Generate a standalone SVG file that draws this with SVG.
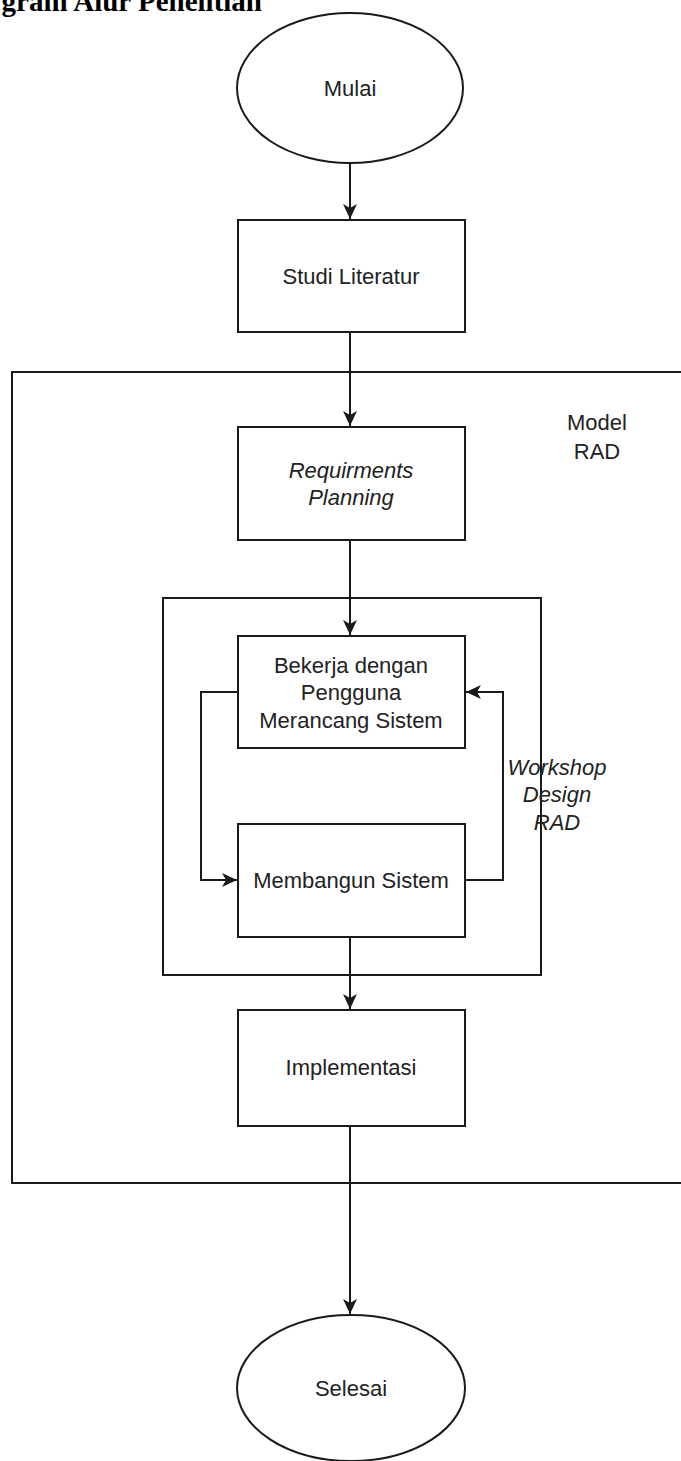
<svg xmlns="http://www.w3.org/2000/svg" width="681" height="1461" viewBox="0 0 681 1461">
<style>
.shape{fill:#fff;stroke:#1a1a1a;stroke-width:2}
.frame{fill:none;stroke:#1a1a1a;stroke-width:2}
.lbl{font-family:"Liberation Sans",Arial,sans-serif;font-size:22px;fill:#222;text-anchor:middle}
.it{font-style:italic}
.conn{fill:none;stroke:#1a1a1a;stroke-width:2}
.title{font-family:"Liberation Serif","Times New Roman",serif;font-weight:bold;font-size:29px;fill:#000}
</style>
<defs>
<marker id="arr" markerWidth="16" markerHeight="14" refX="15" refY="7" orient="auto" markerUnits="userSpaceOnUse">
<path d="M0,0 L15,7 L0,14 L4,7 Z" fill="#1a1a1a"/>
</marker>
</defs>
<rect width="681" height="1461" fill="#fff"/>
<text class="title" x="262" y="11" text-anchor="end">gram Alur Penelitian</text>

<g id="frame-model-rad">
<rect class="frame" x="12" y="372" width="670" height="811"/>
<text class="lbl" x="597" y="430">Model</text>
<text class="lbl" x="597" y="459">RAD</text>
</g>
<g id="frame-workshop">
<rect class="frame" x="163" y="598" width="378" height="377"/>
</g>

<g id="connectors">
<line class="conn" x1="350" y1="163" x2="350" y2="219" marker-end="url(#arr)"/>
<line class="conn" x1="350" y1="332" x2="350" y2="426" marker-end="url(#arr)"/>
<line class="conn" x1="350" y1="540" x2="350" y2="635" marker-end="url(#arr)"/>
<polyline class="conn" points="238,692 201,692 201,880 237,880" marker-end="url(#arr)"/>
<polyline class="conn" points="465,880 503,880 503,692 466,692" marker-end="url(#arr)"/>
<line class="conn" x1="350" y1="937" x2="350" y2="1009" marker-end="url(#arr)"/>
<line class="conn" x1="350" y1="1126" x2="350" y2="1314" marker-end="url(#arr)"/>
<text class="lbl it" x="557" y="775">Workshop</text>
<text class="lbl it" x="557" y="802">Design</text>
<text class="lbl it" x="557" y="830">RAD</text>
</g>

<g id="mulai">
<ellipse class="shape" cx="350" cy="88" rx="113" ry="75"/>
<text class="lbl" x="350" y="96">Mulai</text>
</g>
<g id="studi-literatur">
<rect class="shape" x="238" y="220" width="227" height="112"/>
<text class="lbl" x="351" y="284">Studi Literatur</text>
</g>
<g id="requirements-planning">
<rect class="shape" x="238" y="427" width="227" height="113"/>
<text class="lbl it" x="351" y="478">Requirments</text>
<text class="lbl it" x="351" y="505">Planning</text>
</g>
<g id="bekerja">
<rect class="shape" x="238" y="636" width="227" height="112"/>
<text class="lbl" x="351" y="673">Bekerja dengan</text>
<text class="lbl" x="351" y="700">Pengguna</text>
<text class="lbl" x="351" y="728">Merancang Sistem</text>
</g>
<g id="membangun">
<rect class="shape" x="238" y="824" width="227" height="113"/>
<text class="lbl" x="351" y="888">Membangun Sistem</text>
</g>
<g id="implementasi">
<rect class="shape" x="238" y="1010" width="227" height="116"/>
<text class="lbl" x="351" y="1075">Implementasi</text>
</g>
<g id="selesai">
<ellipse class="shape" cx="351" cy="1388" rx="114" ry="73"/>
<text class="lbl" x="351" y="1396">Selesai</text>
</g>
</svg>
